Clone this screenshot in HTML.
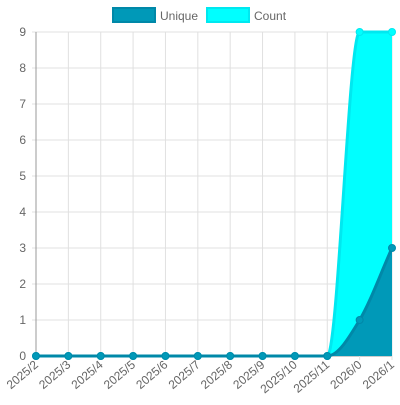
<!DOCTYPE html>
<html><head><meta charset="utf-8"><style>
body{margin:0;background:#fff;width:400px;height:400px;overflow:hidden;font-family:"Liberation Sans",sans-serif}
</style></head><body>
<svg id="c" width="400" height="400"></svg>
<script>
const categories=["2025/2","2025/3","2025/4","2025/5","2025/6","2025/7","2025/8","2025/9","2025/10","2025/11","2026/0","2026/1"];
const uniqueValues=[0,0,0,0,0,0,0,0,0,0,1,3];
const countValues=[0,0,0,0,0,0,0,0,0,0,9,9];
const yTicks=[0,1,2,3,4,5,6,7,8,9];
const NS="http://www.w3.org/2000/svg";
const svg=document.getElementById('c');
const x0=36,x1=392,y0=356,y1=32,yMax=9;
const xs=i=>x0+i*(x1-x0)/(categories.length-1);
const ys=v=>y0-v*(y0-y1)/yMax;
function el(t,a,p){const e=document.createElementNS(NS,t);for(const k in a)e.setAttribute(k,a[k]);(p||svg).appendChild(e);return e;}
// grid
yTicks.forEach(t=>{
 const g=el('line',{x1:x0-4,x2:x1,y1:ys(t),y2:ys(t),stroke:t===0?'#999':'#e0e0e0','stroke-width':1});
 
 
 const tx=el('text',{x:x0-10,y:ys(t)+4,'text-anchor':'end','font-size':12,fill:'#666'});
 tx.textContent=t;
 
 
});
categories.forEach((c,i)=>{
 const g=el('line',{x1:xs(i),x2:xs(i),y1:y1,y2:y0+4,stroke:i===0?'#999':'#e0e0e0','stroke-width':1});
 
 
 const tx=el('text',{x:xs(i)+3,y:y0+10,'text-anchor':'end','font-size':12,fill:'#666',transform:`rotate(-40 ${xs(i)+3} ${y0+10})`});
 tx.textContent=c;
 
 
});
function monoPath(vals){
 const n=vals.length,px=vals.map((v,i)=>xs(i)),py=vals.map(v=>ys(v));
 const d=[],m=[];
 for(let i=0;i<n-1;i++)d.push((py[i+1]-py[i])/(px[i+1]-px[i]));
 for(let i=0;i<n;i++){
  if(i===0)m.push(d[0]);else if(i===n-1)m.push(d[n-2]);
  else m.push(d[i-1]*d[i]<=0?0:(d[i-1]+d[i])/2);
 }
 for(let i=0;i<n-1;i++){
  if(d[i]===0){m[i]=0;m[i+1]=0;continue;}
  const a=m[i]/d[i],b=m[i+1]/d[i],s=a*a+b*b;
  if(s>9){const t=3/Math.sqrt(s);m[i]=t*a*d[i];m[i+1]=t*b*d[i];}
 }
 let p=`M${px[0]},${py[0]}`;
 for(let i=0;i<n-1;i++){
  const h=(px[i+1]-px[i])/3;
  p+=` C${px[i]+h},${py[i]+m[i]*h} ${px[i+1]-h},${py[i+1]-m[i+1]*h} ${px[i+1]},${py[i+1]}`;
 }
 return p;
}
function series(vals,fill,stroke,name){
 const line=monoPath(vals);
 const a=el('path',{d:line+` L${xs(vals.length-1)},${y0} L${x0},${y0} Z`,fill:fill,stroke:'none'});
 
 
 const l=el('path',{d:line,fill:'none',stroke:stroke,'stroke-width':3});
 
 
 vals.forEach((v,i)=>{
  const c=el('circle',{cx:xs(i),cy:ys(v),r:3.5,fill:fill,stroke:stroke,'stroke-width':1});
  
  
 });
}
series(countValues,'#00ffff','#00e8f0','count');
series(uniqueValues,'#0099b8','#0088a8','unique');
// legend
const lg=el('g',{});


const r1=el('rect',{x:113,y:8,width:42,height:14,fill:'#0099b8',stroke:'#0088a8','stroke-width':2},lg);


const t1=el('text',{x:160,y:20,'font-size':12,fill:'#666'},lg);t1.textContent='Unique';


const r2=el('rect',{x:207,y:8,width:42,height:14,fill:'#00ffff',stroke:'#00e8f0','stroke-width':2},lg);


const t2=el('text',{x:254,y:20,'font-size':12,fill:'#666'},lg);t2.textContent='Count';


</script>
</body></html>
